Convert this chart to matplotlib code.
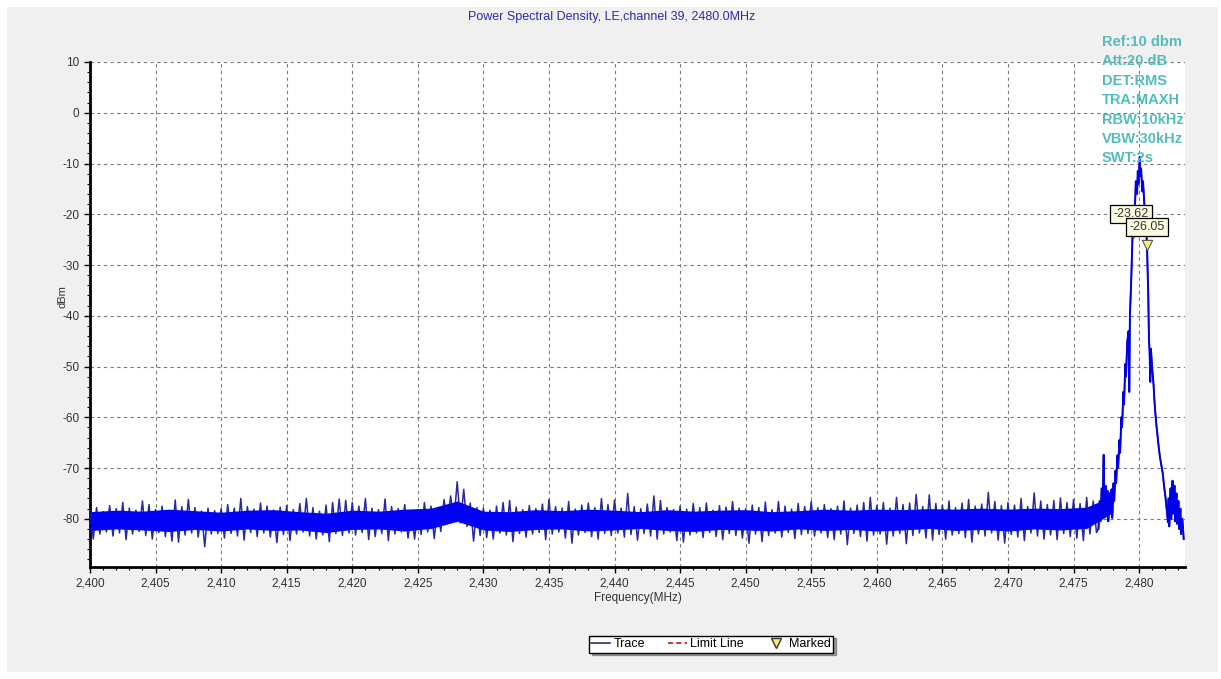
import numpy as np
import matplotlib
matplotlib.use("Agg")
import matplotlib.pyplot as plt
from matplotlib.lines import Line2D
from matplotlib.patches import Rectangle
from matplotlib.ticker import MultipleLocator, FuncFormatter

plt.rcParams['font.family'] = ['Liberation Sans', 'DejaVu Sans']
plt.rcParams['axes.unicode_minus'] = False

# noise floor, read every 0.5 MHz from 2400.0 to 2476.5: spike tops / spike bottoms (dBm)
floor_hi = [-78.5, -77.8, -78.6, -77.4, -78.0, -76.8, -77.9, -78.3, -76.5, -77.2,
            -78.2, -77.5, -78.4, -76.3, -77.6, -76.2, -77.8, -78.5, -77.9, -78.4,
            -78.0, -77.2, -77.9, -76.0, -77.6, -78.1, -76.9, -77.5, -78.3, -77.7,
            -77.4, -78.2, -77.0, -76.0, -77.8, -78.5, -77.3, -76.8, -76.1, -76.4,
            -76.8, -77.5, -76.0, -77.9, -78.2, -76.1, -77.6, -78.0, -77.2, -78.4,
            -78.3, -76.8, -77.5, -78.0, -76.2, -75.5, -72.7, -74.2, -76.9, -77.8,
            -77.9, -78.3, -77.5, -76.8, -76.4, -77.7, -78.2, -77.4, -78.0, -77.1,
            -76.2, -77.6, -77.9, -76.6, -78.1, -77.3, -76.9, -77.8, -76.0, -77.2,
            -76.3, -77.9, -75.0, -77.6, -78.0, -77.1, -75.5, -76.4, -77.8, -78.2,
            -77.5, -78.1, -77.0, -77.8, -76.9, -78.3, -77.4, -77.7, -76.6, -77.9,
            -78.0, -77.3, -77.8, -76.7, -78.2, -76.6, -77.5, -78.1, -77.0, -77.6,
            -76.6, -77.8, -77.2, -78.0, -77.5, -76.5, -77.9, -77.3, -76.8, -75.8,
            -77.4, -76.8, -77.9, -75.8, -77.2, -76.9, -75.2, -77.6, -75.3, -77.0,
            -77.3, -76.5, -77.8, -76.9, -76.2, -77.5, -77.1, -74.8, -76.6, -77.4,
            -76.8, -77.3, -76.0, -77.6, -74.9, -76.5, -77.2, -76.4, -75.9, -76.8,
            -76.2, -77.0, -75.8, -76.5]
floor_lo = [-84.0, -83.0, -82.6, -83.4, -82.8, -84.1, -83.0, -82.5, -83.3, -84.0,
            -82.7, -83.5, -84.4, -84.6, -83.2, -82.8, -83.6, -85.5, -83.0, -82.9,
            -83.8, -82.9, -83.4, -84.2, -82.7, -83.5, -82.8, -83.6, -84.7, -83.1,
            -84.3, -83.0, -82.6, -83.4, -84.0, -83.2, -84.5, -82.9, -83.3, -82.8,
            -83.2, -82.7, -84.1, -83.5, -82.9, -84.3, -83.0, -82.6, -83.8, -84.0,
            -83.1, -82.6, -83.9, -82.5, -81.0, -80.3, -80.8, -81.5, -84.4, -83.3,
            -83.7, -84.0, -82.8, -83.2, -84.5, -82.9, -83.6, -83.0, -82.7, -84.1,
            -83.0, -82.6, -83.8, -84.8, -83.2, -82.7, -83.5, -84.0, -82.9, -83.3,
            -82.8, -83.6, -83.1, -84.2, -82.9, -83.4, -84.0, -83.0, -82.6, -84.3,
            -84.6, -83.2, -82.8, -83.7, -82.7, -83.5, -84.1, -82.9, -83.3, -83.8,
            -84.8, -83.0, -84.5, -83.3, -82.8, -83.6, -82.7, -83.9, -83.1, -82.9,
            -83.4, -82.8, -83.7, -84.1, -83.0, -85.1, -82.9, -83.5, -84.4, -83.2,
            -83.0, -85.0, -83.4, -82.9, -84.9, -83.3, -82.8, -83.8, -84.2, -83.1,
            -84.0, -83.2, -82.9, -83.7, -84.6, -83.0, -83.4, -82.8, -84.2, -84.8,
            -83.1, -83.6, -84.3, -82.8, -83.4, -84.0, -83.2, -84.1, -82.9, -83.5,
            -83.8, -84.3, -83.0, -82.7]

# dense core of the noise band, every 2 MHz from 2400 to 2478
core_hi = [-78.6, -78.3, -78.5, -78.1, -78.4, -78.7, -78.3, -78.2, -78.6, -78.9,
           -78.3, -78.5, -78.1, -77.9, -76.5, -78.5, -78.6, -78.2, -78.4, -78.1,
           -78.3, -78.6, -78.2, -78.5, -78.3, -78.2, -78.6, -78.4, -78.1, -78.3,
           -78.1, -78.2, -78.0, -78.1, -77.9, -78.1, -77.9, -78.0, -77.7, -75.5]
core_lo = [-82.3, -82.0, -82.2, -82.5, -82.1, -82.4, -82.0, -82.3, -82.2, -82.7,
           -82.1, -82.0, -82.4, -81.9, -80.5, -82.2, -82.5, -82.1, -82.0, -82.4,
           -82.2, -81.9, -82.3, -82.5, -82.1, -82.2, -82.4, -82.0, -82.3, -82.1,
           -82.4, -82.2, -81.9, -82.3, -82.1, -82.4, -82.0, -82.2, -81.9, -78.8]

# carrier at channel 39 (2476.9 .. 2483.4 MHz)
peak_freq = [2476.9, 2477.0, 2477.05, 2477.15, 2477.2, 2477.3, 2477.35, 2477.45, 2477.5, 2477.6,
             2477.65, 2477.75, 2477.8, 2477.9, 2477.95, 2478.05, 2478.1, 2478.2, 2478.25, 2478.35,
             2478.4, 2478.5, 2478.55, 2478.65, 2478.7, 2478.8, 2478.85, 2478.95, 2479.0, 2479.1,
             2479.2, 2479.25, 2479.3, 2479.4, 2479.5, 2479.6, 2479.7, 2479.75, 2479.85, 2479.9,
             2479.95, 2480.05, 2480.1, 2480.15, 2480.25, 2480.3, 2480.4, 2480.5, 2480.6, 2480.7,
             2480.75, 2480.8, 2480.85, 2480.9, 2481.0, 2481.1, 2481.2, 2481.3, 2481.4, 2481.5,
             2481.6, 2481.7, 2481.8, 2481.9, 2482.0, 2482.1, 2482.2, 2482.25, 2482.3, 2482.4,
             2482.45, 2482.55, 2482.6, 2482.7, 2482.75, 2482.85, 2482.9, 2483.0, 2483.05, 2483.15,
             2483.2, 2483.3, 2483.4]
peak_level = [-82.0, -76.5, -80.5, -74.0, -79.5, -67.4, -78.8, -73.5, -79.0, -74.5,
              -80.5, -75.0, -78.5, -74.2, -79.8, -73.0, -76.5, -70.5, -73.0, -67.5,
              -70.0, -64.5, -67.0, -60.0, -62.0, -55.0, -57.5, -49.5, -52.0, -45.0,
              -43.0, -55.0, -40.0, -33.0, -24.0, -20.0, -17.5, -13.5, -16.0, -11.5,
              -14.0, -8.7, -12.5, -11.0, -15.5, -13.5, -18.0, -21.0, -26.0, -36.0,
              -44.5, -47.0, -53.0, -46.5, -50.5, -53.5, -58.0, -61.0, -63.5, -66.0,
              -68.0, -69.5, -71.0, -73.5, -75.5, -78.0, -80.7, -76.0, -81.5, -74.0,
              -80.0, -72.5, -79.0, -73.5, -80.5, -75.0, -81.0, -76.5, -82.0, -78.0,
              -83.0, -80.0, -84.0]

marker_freq = [2479.54, 2480.61]
marker_level = [-23.62, -26.05]

info_lines = ["Ref:10 dbm", "Att:20 dB", "DET:RMS", "TRA:MAXH", "RBW:10kHz", "VBW:30kHz", "SWT:2s"]

fig = plt.figure(figsize=(12.21, 6.79), dpi=100)
fig.patch.set_facecolor("white")
fig.patches.append(Rectangle((7 / 1221, 7 / 679), 1211 / 1221, 665 / 679,
                             transform=fig.transFigure, facecolor="#f0f0f0",
                             edgecolor="none", zorder=-10))

ax = fig.add_axes([90 / 1221, 1 - 567 / 679, 1095 / 1221, 505 / 679])
ax.set_facecolor("white")

# noise trace: zig-zag between spike tops and bottoms
floor_f = 2400 + 0.5 * np.arange(len(floor_hi))
zig_f = np.column_stack([floor_f, floor_f + 0.25]).ravel()
zig_v = np.column_stack([floor_hi, floor_lo]).ravel()
trace_f = np.concatenate([zig_f, peak_freq])
trace_v = np.concatenate([zig_v, peak_level])
ax.plot(trace_f, trace_v, color="#2828a0", lw=1.1, zorder=3)

core_f = 2400 + 2.0 * np.arange(len(core_hi))
ax.fill_between(core_f, core_lo, core_hi, color="#0000f4", lw=0, zorder=4)
ax.plot(peak_freq, peak_level, color="#0000e8", lw=1.4, zorder=4)

# markers
ax.scatter(marker_freq, marker_level, marker="v", s=55, facecolor="#f5f07a",
           edgecolor="#555555", lw=0.8, zorder=6)
offsets = [(-1.5, 13.5), (0, 13)]
for f, v, off in zip(marker_freq, marker_level, offsets):
    ax.annotate(f"{v:.2f}", (f, v), xytext=off, textcoords="offset points",
                ha="center", va="center", fontsize=9, color="#333333", zorder=7,
                bbox=dict(boxstyle="square,pad=0.25", facecolor="#fbfbe0",
                          edgecolor="black", lw=0.9))

ax.set_xlim(2400, 2483.5)
ax.set_ylim(-89.5, 10)
ax.xaxis.set_major_locator(MultipleLocator(5))
ax.xaxis.set_minor_locator(MultipleLocator(1))
ax.yaxis.set_minor_locator(MultipleLocator(2))
ax.set_yticks([10, 0, -10, -20, -30, -40, -50, -60, -70, -80])
ax.xaxis.set_major_formatter(FuncFormatter(lambda v, p: f"{v:,.0f}"))
ax.tick_params(which="major", direction="out", length=4, width=1, labelsize=8.5,
               colors="black", labelcolor="#333333")
ax.tick_params(which="minor", direction="out", length=2, width=0.8)

ax.grid(True, which="major", color="#7a7a7a", lw=0.8, linestyle=(0, (3, 3)), zorder=1)
ax.set_axisbelow(True)
for s in ["top", "right"]:
    ax.spines[s].set_visible(False)
for s in ["left", "bottom"]:
    ax.spines[s].set_linewidth(2)
    ax.spines[s].set_color("black")

ax.set_xlabel("Frequency(MHz)", fontsize=8.5, color="#333333", labelpad=2)
ax.set_ylabel("dBm", fontsize=8, color="#333333")
ax.yaxis.set_label_coords(-0.021, 0.535)

fig.text(612 / 1221, 1 - 17 / 679, "Power Spectral Density, LE,channel 39, 2480.0MHz",
         ha="center", va="center", fontsize=9, color="#2c2cb0")

for i, line in enumerate(info_lines):
    fig.text(1102 / 1221, 1 - (42 + 19.4 * i) / 679, line, ha="left", va="center",
             fontsize=10.5, color="#52bcbc", fontweight="bold", zorder=10)

handles = [Line2D([], [], color="#2c2c78", lw=1.2),
           Line2D([], [], color="#d01010", lw=1.2, linestyle=(0, (3, 2))),
           Line2D([], [], color="none", marker="v", markersize=7,
                  markerfacecolor="#f5f07a", markeredgecolor="#333333")]
leg = fig.legend(handles, ["Trace", "Limit Line", "Marked"], ncol=3,
                 loc="center", bbox_to_anchor=(711 / 1221, 1 - 644 / 679),
                 fontsize=9, frameon=True, fancybox=False, shadow=True,
                 handlelength=1.5, handletextpad=0.3, columnspacing=1.8,
                 borderpad=0.2)
leg.get_frame().set_edgecolor("black")
leg.get_frame().set_linewidth(1.0)

fig.savefig("out.png", dpi=100)
